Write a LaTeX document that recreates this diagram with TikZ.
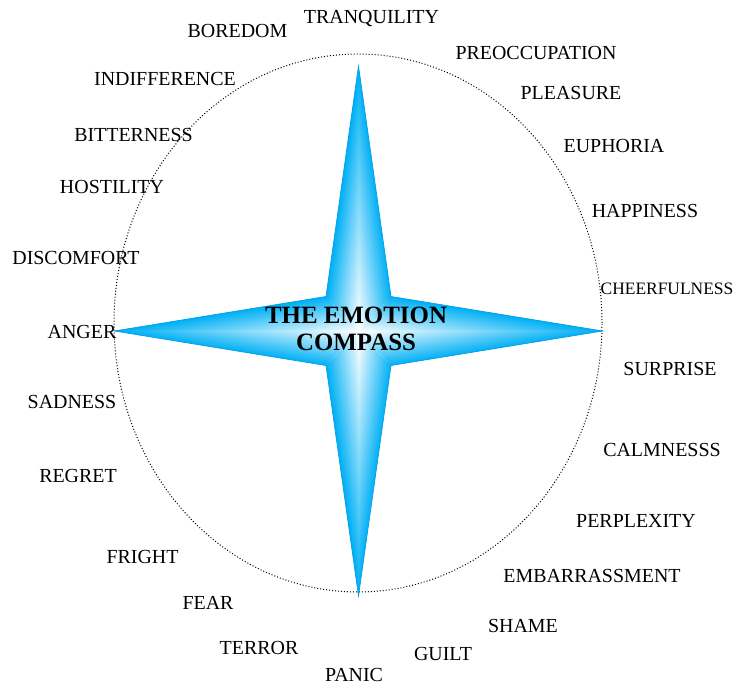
\documentclass[tikz,border=0pt]{standalone}
\usepackage{fontspec}
\setmainfont{Liberation Serif}
\usetikzlibrary{positioning}
\definecolor{starblue}{RGB}{0,176,245}
\definecolor{staredge}{RGB}{0,158,232}

\begin{document}
\begin{tikzpicture}[x=1bp,y=1bp,
  lbl/.style={font=\fontsize{20}{24}\selectfont,inner sep=0pt,text height=13.2bp,text depth=0pt},
  fade/.style={left color=white,right color=starblue}]
  \useasboundingbox (0,0) rectangle (737,687);
  % the dotted ring
  \draw[dotted,line width=1pt] (358,364) ellipse [x radius=244,y radius=269];
  % star: one quarter, mirrored four times
  \foreach \sx/\sy in {1/1,-1/1,-1/-1,1/-1}{
   \begin{scope}[transform canvas={shift={(358.5,356)},xscale=\sx,yscale=\sy}]
    \begin{scope}
      \clip (-0.4,0) -- (-0.4,265) -- (0,265) -- (32.5,34.5) -- cycle;
      \begin{scope}[transform canvas={rotate=8.03}]
        \shade[fade] (0,-300) rectangle (37,300);
      \end{scope}
    \end{scope}
    \begin{scope}
      \clip (0,-0.4) -- (32.5,34.5) -- (244,0) -- (244,-0.4) -- cycle;
      \begin{scope}[transform canvas={rotate=80.74}]
        \shade[fade] (0,-300) rectangle (39.3,300);
      \end{scope}
    \end{scope}
   \end{scope}}
  \draw[staredge,line width=0.7pt,line join=miter] (358.5,621) -- (391,390.5) -- (602.5,356) -- (391,321.5)
     -- (358.5,91) -- (326,321.5) -- (114.5,356) -- (326,390.5) -- cycle;
  % title
  \node[font=\fontsize{25}{27}\selectfont\bfseries,align=center,inner sep=0pt] (title) at (356,358.5)
     {THE EMOTION\\COMPASS};
  % emotions round the ring
  \foreach \lab/\x/\y [count=\i] in {TRANQUILITY/371.5/670,BOREDOM/237.5/656,PREOCCUPATION/536/634,
     PLEASURE/571/594,EUPHORIA/614/541,HAPPINESS/645/476,SURPRISE/670/318,CALMNESSS/662/237,
     PERPLEXITY/636/166,EMBARRASSMENT/592/111,SHAME/523/61,GUILT/443/33,PANIC/354/12.5,
     TERROR/259/39,FEAR/208/84,FRIGHT/142.5/130,REGRET/78/211,SADNESS/72/285,ANGER/82/355.5,
     DISCOMFORT/76/429,HOSTILITY/112/500,BITTERNESS/133.5/552.5,INDIFFERENCE/165/608}
    {\node[lbl] (emo\i) at (\x,\y) {\lab};}
  \node[lbl,font=\fontsize{17.5}{21}\selectfont,text height=11.6bp] (cheer) at (667,398) {CHEERFULNESS};
\end{tikzpicture}
\end{document}
